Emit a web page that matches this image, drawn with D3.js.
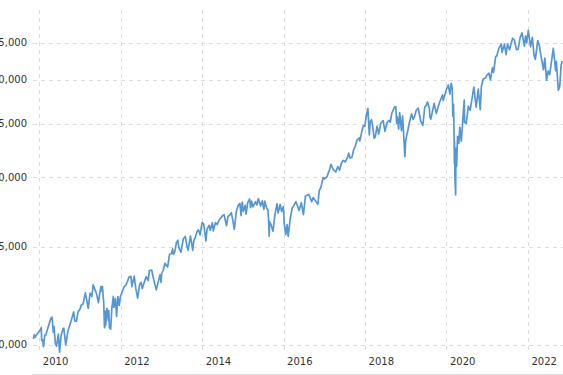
<!DOCTYPE html>
<html>
<head>
<meta charset="utf-8">
<script src="https://cdn.jsdelivr.net/npm/d3@7"></script>
<style>
  html, body { margin: 0; padding: 0; background: #fff; overflow: hidden; }
  svg { display: block; }
  .tick text { font-family: "DejaVu Sans", Verdana, sans-serif; font-size: 10px; fill: #333; }
</style>
</head>
<body>
<svg id="chart" width="563" height="375"></svg>
<script>
const dates = [
"2009-11-09","2009-11-16","2009-11-27","2009-12-04","2009-12-15","2009-12-28",
"2010-01-08","2010-01-19","2010-01-22","2010-02-01","2010-02-08","2010-02-19","2010-03-01","2010-03-15","2010-04-01","2010-04-15","2010-04-26","2010-05-06","2010-05-13","2010-05-25","2010-06-04","2010-06-21","2010-07-02","2010-07-15","2010-08-02","2010-08-09","2010-08-26","2010-09-15","2010-10-01","2010-10-15","2010-11-05","2010-11-16","2010-11-30","2010-12-15","2010-12-31",
"2011-01-14","2011-01-28","2011-02-18","2011-03-01","2011-03-16","2011-04-01","2011-04-18","2011-04-29","2011-05-13","2011-06-01","2011-06-15","2011-07-07","2011-07-15","2011-07-21","2011-08-02","2011-08-08","2011-08-10","2011-08-15","2011-08-19","2011-08-31","2011-09-12","2011-09-16","2011-09-22","2011-10-03","2011-10-14","2011-10-27","2011-11-01","2011-11-15","2011-11-25","2011-12-07","2011-12-19","2011-12-30",
"2012-01-13","2012-02-01","2012-02-15","2012-03-01","2012-03-16","2012-04-02","2012-04-10","2012-05-01","2012-05-15","2012-06-01","2012-06-19","2012-07-03","2012-07-12","2012-08-01","2012-08-16","2012-09-04","2012-09-14","2012-10-05","2012-10-23","2012-11-15","2012-12-03","2012-12-18","2012-12-28",
"2013-01-02","2013-01-18","2013-02-01","2013-02-25","2013-03-14","2013-04-01","2013-04-11","2013-04-18","2013-05-01","2013-05-15","2013-05-28","2013-06-05","2013-06-24","2013-07-15","2013-08-02","2013-08-15","2013-08-27","2013-09-18","2013-10-08","2013-10-18","2013-11-01","2013-11-15","2013-11-29","2013-12-13","2013-12-31",
"2014-01-15","2014-02-03","2014-02-14","2014-03-04","2014-03-14","2014-04-02","2014-04-11","2014-04-30","2014-05-15","2014-06-02","2014-06-20","2014-07-03","2014-07-16","2014-08-07","2014-08-21","2014-09-02","2014-09-19","2014-10-01","2014-10-16","2014-11-03","2014-11-21","2014-12-05","2014-12-16","2014-12-26",
"2015-01-06","2015-01-22","2015-01-30","2015-02-13","2015-03-02","2015-03-11","2015-03-20","2015-04-01","2015-04-24","2015-05-06","2015-05-19","2015-06-09","2015-06-23","2015-07-08","2015-07-16","2015-08-03","2015-08-14","2015-08-21","2015-08-25","2015-08-28","2015-09-08","2015-09-28","2015-10-15","2015-11-03","2015-11-13","2015-12-01","2015-12-14","2015-12-29",
"2016-01-07","2016-01-20","2016-02-01","2016-02-11","2016-03-01","2016-03-18","2016-04-01","2016-04-20","2016-05-06","2016-05-19","2016-06-08","2016-06-27","2016-07-15","2016-08-15","2016-09-09","2016-09-22","2016-10-14","2016-11-04","2016-11-15","2016-12-01","2016-12-20",
"2017-01-03","2017-01-25","2017-02-15","2017-03-01","2017-03-21","2017-04-13","2017-05-01","2017-05-17","2017-06-02","2017-06-20","2017-07-06","2017-07-26","2017-08-07","2017-08-18","2017-09-05","2017-09-20","2017-10-05","2017-10-20","2017-11-07","2017-11-15","2017-12-04","2017-12-18","2017-12-29",
"2018-01-12","2018-01-26","2018-02-05","2018-02-08","2018-02-16","2018-02-27","2018-03-08","2018-03-23","2018-04-02","2018-04-18","2018-05-03","2018-05-21","2018-06-12","2018-06-28","2018-07-17","2018-08-01","2018-08-15","2018-08-29","2018-09-21","2018-10-03","2018-10-11","2018-10-17","2018-10-29","2018-11-07","2018-11-23","2018-12-03","2018-12-10","2018-12-24","2018-12-31",
"2019-01-15","2019-02-01","2019-02-22","2019-03-08","2019-03-20","2019-04-05","2019-04-23","2019-05-13","2019-06-03","2019-06-20","2019-07-03","2019-07-15","2019-08-01","2019-08-05","2019-08-14","2019-08-30","2019-09-12","2019-10-02","2019-10-18","2019-11-01","2019-11-27","2019-12-03","2019-12-27",
"2020-01-17","2020-01-31","2020-02-12","2020-02-21","2020-02-27","2020-03-04","2020-03-09","2020-03-12","2020-03-13","2020-03-16","2020-03-23","2020-03-26","2020-04-01","2020-04-09","2020-04-21","2020-04-29","2020-05-13","2020-05-27","2020-06-08","2020-06-11","2020-06-26","2020-07-15","2020-07-31","2020-08-18","2020-09-02","2020-09-23","2020-10-12","2020-10-30","2020-11-09","2020-11-24","2020-12-15","2020-12-31",
"2021-01-15","2021-01-29","2021-02-16","2021-02-26","2021-03-17","2021-03-26","2021-04-16","2021-05-07","2021-05-12","2021-06-04","2021-06-18","2021-07-02","2021-07-19","2021-08-16","2021-08-31","2021-09-20","2021-10-04","2021-10-22","2021-11-08","2021-11-30","2021-12-10","2021-12-20",
"2022-01-04","2022-01-24","2022-02-09","2022-02-24","2022-03-08","2022-03-29","2022-04-14","2022-04-29","2022-05-20","2022-06-01","2022-06-16","2022-07-01","2022-07-14","2022-08-16","2022-09-06","2022-09-12","2022-09-30","2022-10-13","2022-10-25","2022-11-04"
];
const closes = [
10226,10406,10310,10390,10450,10547,
10618,10725,10172,10185,9908,10402,10403,10643,10927,11144,11205,10520,10782,10043,9931,10442,9686,10359,10674,10698,9985,10572,10829,11062,11444,11023,11006,11457,11578,
11787,11823,12391,12058,11613,12376,12202,12811,12596,12290,11897,12719,12479,12724,11866,10810,10720,11482,10818,11614,11062,11509,10733,10655,11644,12209,11658,12096,11231,12196,11766,12217,
12422,12716,12781,12980,13233,13264,12716,13279,12632,12119,12837,12943,12605,12971,13250,13036,13593,13610,13102,12542,12965,13351,12938,
13412,13650,14010,13784,14539,14572,14865,14537,14700,15275,15409,14960,14660,15484,15658,15112,14776,15676,14776,15400,15615,15962,16086,15755,16577,
16481,15373,16154,16396,16066,16573,16027,16581,16447,16743,16947,17068,17138,16368,17039,17067,17280,16804,16117,17366,17810,17958,17068,18053,
17371,17814,17165,18019,18288,17635,18128,17698,18080,17841,18312,17765,18144,17515,18120,17598,17477,16460,15666,16643,16492,16001,17141,17918,17245,17888,17368,17720,
16514,15766,16449,15660,16865,17602,17792,18096,17740,17435,18005,17140,18516,18636,18085,18392,18138,17888,18923,19191,19974,
19882,20069,20611,21115,20669,20453,20913,20607,21206,21468,21320,21711,22118,21675,21753,22412,22775,23329,23557,23272,24290,24792,24719,
25803,26617,24346,23860,25219,25410,24895,23533,23644,24748,23930,25013,25320,24216,25120,25333,25162,26124,26744,26828,25052,25706,24443,26180,24286,25826,24423,21792,23327,
24065,25063,26031,25450,25745,26424,26656,25324,24820,26753,26966,27359,26583,25718,25479,26403,27182,26079,26770,27347,28164,27502,28645,
29348,28256,29551,28992,25767,27091,23851,21200,23185,20189,18592,22552,20944,23720,23019,24634,23248,25548,27572,25128,25016,26870,26428,27779,29100,26763,28838,26502,29158,30046,30200,30606,
30814,29983,31523,30932,33015,33072,34200,34778,33587,34756,33290,34786,33962,35625,35361,33970,34002,35677,36432,34484,35971,34932,
36800,34365,35768,33223,32632,35294,34451,32977,31262,32813,29927,31097,30630,34152,31145,32381,28726,29210,31837,32403
];
const yTickValues = [10000, 15000, 20000, 25000, 30000, 35000];
const xTickYears = [2010, 2012, 2014, 2016, 2018, 2020, 2022];

const svg = d3.select("#chart");
const parse = d3.timeParse("%Y-%m-%d");
const data = dates.map((d, i) => ({ date: parse(d), value: closes[i] }));

const plotLeft = 32, plotRight = 600, plotTop = 10, plotBottom = 352;

const x = d3.scaleTime()
  .domain([new Date(2010, 0, 1), new Date(2022, 0, 1)])
  .range([39.3, 528]);
const y = d3.scaleLog()
  .domain([10000, 35000])
  .range([344.5, 42.5]);

const xTicks = xTickYears.map(yr => new Date(yr, 0, 1));

// grid
const grid = svg.append("g");
grid.selectAll("line.h").data(yTickValues).enter().append("line")
  .attr("x1", plotLeft + 1).attr("x2", plotRight)
  .attr("y1", d => Math.round(y(d)) + 0.5).attr("y2", d => Math.round(y(d)) + 0.5)
  .attr("stroke", "#dcdcdc").attr("stroke-width", 1).attr("stroke-dasharray", "4,4");
grid.selectAll("line.v").data(xTicks).enter().append("line")
  .attr("x1", d => Math.round(x(d)) + 0.5).attr("x2", d => Math.round(x(d)) + 0.5)
  .attr("y1", plotTop).attr("y2", plotBottom)
  .attr("stroke", "#dcdcdc").attr("stroke-width", 1).attr("stroke-dasharray", "4,4");

// bottom rule
svg.append("line")
  .attr("x1", plotLeft).attr("x2", plotRight)
  .attr("y1", 374.5).attr("y2", 374.5)
  .attr("stroke", "#dedede").attr("stroke-width", 1);

// y axis
const yAxis = svg.append("g")
  .attr("transform", `translate(${plotLeft},0)`)
  .call(d3.axisLeft(y).tickValues(yTickValues).tickFormat(d3.format(",")).tickSize(0).tickPadding(5));
yAxis.select(".domain").remove();

// x axis
const xAxis = svg.append("g")
  .attr("transform", `translate(0,${plotBottom})`)
  .call(d3.axisBottom(x).tickValues(xTicks).tickFormat(d3.timeFormat("%Y")).tickSize(0).tickPadding(6));
xAxis.select(".domain").remove();
xAxis.selectAll("text").attr("text-anchor", "start").attr("dx", 3);

// line
const line = d3.line()
  .x(d => x(d.date))
  .y(d => y(d.value));
svg.append("path")
  .datum(data)
  .attr("fill", "none")
  .attr("stroke", "#5596d6")
  .attr("stroke-width", 1.7)
  .attr("stroke-linejoin", "round")
  .attr("d", line);
</script>
</body>
</html>
